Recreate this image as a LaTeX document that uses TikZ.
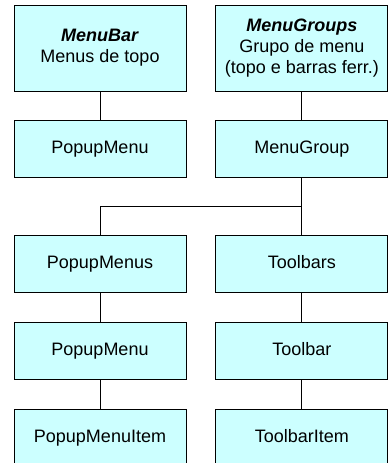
\documentclass[tikz,border=0pt]{standalone}
\usepackage{fontspec}
\setmainfont{Liberation Sans}
\usetikzlibrary{positioning}
\definecolor{boxcyan}{HTML}{CCFFFF}

\begin{document}
\begin{tikzpicture}[x=1pt,y=1pt,font=\fontsize{18}{21}\selectfont,
every node/.style={fill=boxcyan,draw=black,line width=0.9pt,align=center,
  minimum width=172pt,minimum height=57pt,inner sep=0pt},
classbox/.style={text height=13pt,text depth=4pt},
topbox/.style={minimum height=86pt},
node distance=29pt and 29pt]
\useasboundingbox (0,0) rectangle (387.5,-463);

\node[topbox] (menubar) at (100,-48) {\textbf{\textit{MenuBar}}\\Menus de topo};
\node[topbox,right=of menubar] (menugroups) {\textbf{\textit{MenuGroups}}\\Grupo de menu\\(topo e barras ferr.)};
\node[classbox,below=of menubar] (popupmenu) {PopupMenu};
\node[classbox,below=of menugroups] (menugroup) {MenuGroup};
\node[classbox,below=57pt of popupmenu] (popupmenus) {PopupMenus};
\node[classbox,below=57pt of menugroup] (toolbars) {Toolbars};
\node[classbox,below=of popupmenus] (popupmenu2) {PopupMenu};
\node[classbox,below=of toolbars] (toolbar) {Toolbar};
\node[classbox,below=of popupmenu2] (popupmenuitem) {PopupMenuItem};
\node[classbox,below=of toolbar] (toolbaritem) {ToolbarItem};

% connectors
\path (menugroup.south) -- (toolbars.north) coordinate[midway] (fork);
\draw[line width=0.9pt] (menubar) -- (popupmenu);
\draw[line width=0.9pt] (menugroups) -- (menugroup);
\draw[line width=0.9pt] (menugroup) -- (toolbars);
\draw[line width=0.9pt] (popupmenus.north) |- (fork);
\draw[line width=0.9pt] (popupmenus) -- (popupmenu2);
\draw[line width=0.9pt] (popupmenu2) -- (popupmenuitem);
\draw[line width=0.9pt] (toolbars) -- (toolbar);
\draw[line width=0.9pt] (toolbar) -- (toolbaritem);
\end{tikzpicture}
\end{document}
